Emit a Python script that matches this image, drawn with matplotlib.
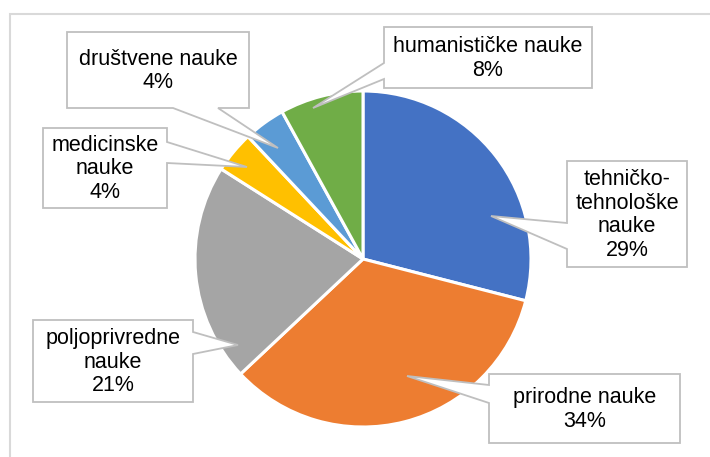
import matplotlib
matplotlib.use("Agg")
import matplotlib.pyplot as plt
from matplotlib.patches import Polygon, Rectangle

labels = ["tehničko-\ntehnološke\nnauke", "prirodne nauke", "poljoprivredne\nnauke",
          "medicinske\nnauke", "društvene nauke", "humanističke nauke"]
values = [29, 34, 21, 4, 4, 8]
colors = ["#4472C4", "#ED7D31", "#A5A5A5", "#FFC000", "#5B9BD5", "#70AD47"]

W, H = 710, 457
fig = plt.figure(figsize=(W / 100, H / 100), dpi=100)
ax = fig.add_axes([0, 0, 1, 1])
ax.set_xlim(0, W)
ax.set_ylim(0, H)
ax.set_aspect("equal")
ax.axis("off")

def Y(y):
    return H - y

# outer chart border
ax.add_patch(Rectangle((10, Y(H + 20)), W + 20, H + 20 - 14, fill=False,
                       edgecolor="#D9D9D9", linewidth=1.5, zorder=0))

cx, cy, r = 363, 259, 168
ax.pie(values, colors=colors, startangle=90, counterclock=False,
       center=(cx, Y(cy)), radius=r, frame=True,
       wedgeprops=dict(edgecolor="white", linewidth=2.2))
ax.set_xlim(0, W)
ax.set_ylim(0, H)
ax.axis("off")

# callouts: box (x0, y0, x1, y1), edge, base (a, b), tip (x, y) in pixel coords
callouts = [
    ((567, 161, 687, 267), "left", (223, 249), (491, 216)),
    ((489, 374, 680, 443), "left", (385, 403), (407, 376)),
    ((33, 320, 193, 402), "right", (332, 354), (238, 345)),
    ((43, 128, 167, 208), "right", (142, 163), (247, 167)),
    ((67, 32, 249, 108), "bottom", (173, 218), (278, 148)),
    ((384, 27, 592, 88), "left", (63, 79), (313, 108)),
]

for (box, edge, base, tip), lab, val in zip(callouts, labels, values):
    x0, y0, x1, y1 = box
    a, b = base
    if edge == "left":
        pts = [(x0, y0), (x1, y0), (x1, y1), (x0, y1), (x0, b), tip, (x0, a)]
    elif edge == "right":
        pts = [(x0, y0), (x1, y0), (x1, a), tip, (x1, b), (x1, y1), (x0, y1)]
    else:  # bottom
        pts = [(x0, y0), (x1, y0), (x1, y1), (b, y1), tip, (a, y1), (x0, y1)]
    pts = [(px, Y(py)) for px, py in pts]
    ax.add_patch(Polygon(pts, closed=True, facecolor="white", edgecolor="#BFBFBF",
                         linewidth=1.3, zorder=5))
    ax.text((x0 + x1) / 2, Y((y0 + y1) / 2 + 1), f"{lab}\n{val}%", ha="center",
            va="center", fontsize=15.5, family="Liberation Sans", color="#000000",
            linespacing=1.15, zorder=6)

fig.savefig("out.png", dpi=100)
